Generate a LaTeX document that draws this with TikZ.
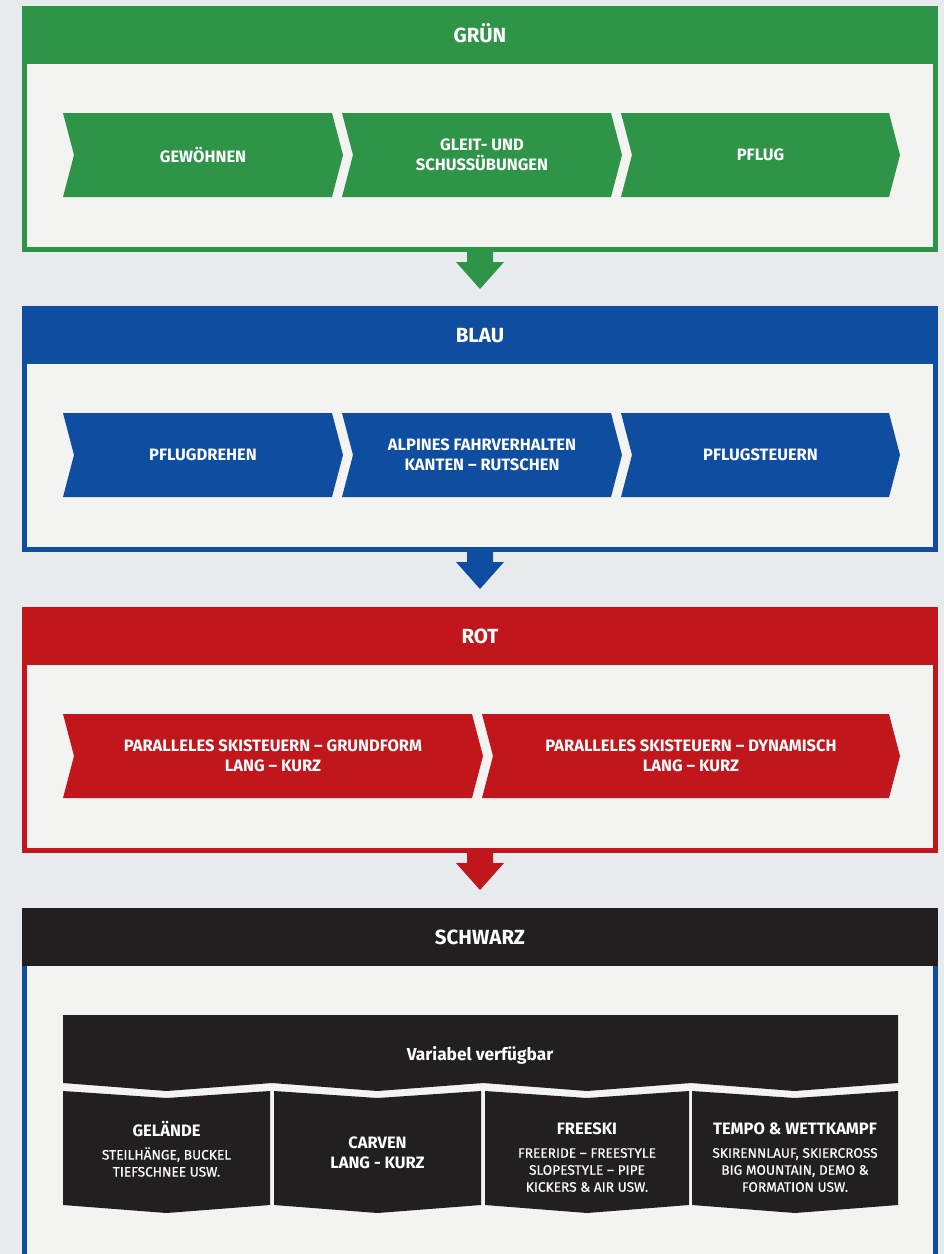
\documentclass[tikz,border=0pt]{standalone}
\usepackage{fontspec}
\setmainfont{Fira Sans}
\newfontfamily\subfont[FakeBold=0.4]{Fira Sans}
\usetikzlibrary{calc}
\definecolor{cgreen}{HTML}{2E9447}
\definecolor{cblue}{HTML}{0E4DA0}
\definecolor{cred}{HTML}{C1161B}
\definecolor{cblack}{HTML}{231F20}
\definecolor{cbody}{HTML}{F3F3F1}
\definecolor{cbg}{HTML}{E7EBEE}
\tikzset{
  headbar/.style={fill=#1, draw=none, minimum width=916pt, minimum height=58pt, inner sep=0pt, outer sep=0pt,
    text=white, font=\bfseries\fontsize{20.5}{22}\selectfont, text height=14pt, text depth=0pt},
  bodybox/.style={draw=#1, line width=5pt, fill=cbody, minimum width=911pt, inner sep=0pt, outer sep=0pt, anchor=north west},
  chevtext/.style={text=white, align=center, font=\bfseries\fontsize{16.5}{20}\selectfont, inner sep=0pt},
  bantext/.style={text=white, font=\bfseries\fontsize{17.3}{20}\selectfont, inner sep=0pt},
  boxtitle/.style={text=white, align=center, font=\bfseries\fontsize{16.5}{19.5}\selectfont, inner sep=0pt},
  boxsub/.style={text=white, align=center, font=\subfont\fontsize{13.7}{17}\selectfont, inner sep=0pt},
}
\newcommand{\chevron}[6]{%
  \fill[#2] (#3,#5) -- (#4,#5) -- (#4+11,#5+42) -- (#4,#5+84) -- (#3,#5+84) -- (#3+11,#5+42) -- cycle;
  \node[chevtext] (#1) at ({(#3+#4)/2+5.5},#5+42) {#6};
}
\newcommand{\blockarrow}[2]{%
  \fill[#2] ($(#1.south)+(-13,-2)$) -- ++(26,0) -- ++(0,14.5) -- ++(11,0) -- ++(-24,27) -- ++(-24,-27) -- ++(11,0) -- cycle;
}
\newcommand{\blackbox}[3]{%
  \fill[cblack] (#2,1091) -- ({(#2+#3)/2},1098) -- (#3,1091) -- (#3,1205) -- ({(#2+#3)/2},1213) -- (#2,1205) -- cycle;
  \coordinate (#1) at ({(#2+#3)/2},1091);
}
\begin{document}
\begin{tikzpicture}[x=1pt,y=-1pt]
\useasboundingbox (0,0) rectangle (944,1254);
\fill[cbg] (0,0) rectangle (944,1254);

% GRUEN
\node[bodybox=cgreen, minimum height=188pt] (gbody) at (24.5,61.5) {};
\node[headbar=cgreen] (ghead) at (480,35) {GRÜN};
\chevron{g1}{cgreen}{63}{332}{113}{GEWÖHNEN}
\chevron{g2}{cgreen}{342}{611}{113}{GLEIT- UND\\SCHUSSÜBUNGEN}
\chevron{g3}{cgreen}{621}{889}{113}{PFLUG}
\blockarrow{gbody}{cgreen}

% BLAU
\node[bodybox=cblue, minimum height=188pt] (bbody) at (24.5,361.5) {};
\node[headbar=cblue] (bhead) at (480,335) {BLAU};
\chevron{b1}{cblue}{63}{332}{413}{PFLUGDREHEN}
\chevron{b2}{cblue}{342}{611}{413}{ALPINES FAHRVERHALTEN\\KANTEN – RUTSCHEN}
\chevron{b3}{cblue}{621}{889}{413}{PFLUGSTEUERN}
\blockarrow{bbody}{cblue}

% ROT
\node[bodybox=cred, minimum height=188pt] (rbody) at (24.5,662.5) {};
\node[headbar=cred] (rhead) at (480,636) {ROT};
\chevron{r1}{cred}{63}{472}{714}{PARALLELES SKISTEUERN – GRUNDFORM\\LANG – KURZ}
\chevron{r2}{cred}{482}{889}{714}{PARALLELES SKISTEUERN – DYNAMISCH\\LANG – KURZ}
\blockarrow{rbody}{cred}

% SCHWARZ
\node[bodybox=cblue, minimum height=320pt] (sbody) at (24.5,963.5) {};
\node[headbar=cblack] (shead) at (480,937) {SCHWARZ};
\fill[cblack] (63,1015) -- (898,1015) -- (898,1083) -- (794.5,1091) -- (691,1083) -- (587,1091) -- (483,1083)
  -- (377.5,1091) -- (272,1083) -- (166.5,1091) -- (63,1083) -- cycle;
\node[bantext] (ban) at (480,1055) {Variabel verfügbar};
\blackbox{k1}{63}{270}
\blackbox{k2}{274}{481}
\blackbox{k3}{485}{689}
\blackbox{k4}{692}{898}
\node[boxtitle] (k1t) at (166.5,1129) {GELÄNDE};
\node[boxsub] (k1s) at (166.5,1162) {STEILHÄNGE, BUCKEL\\TIEFSCHNEE USW.};
\node[boxtitle] (k2t) at (377.5,1153) {CARVEN\\LANG - KURZ};
\node[boxtitle] (k3t) at (587,1129) {FREESKI};
\node[boxsub] (k3s) at (587,1170) {FREERIDE – FREESTYLE\\SLOPESTYLE – PIPE\\KICKERS \& AIR USW.};
\node[boxtitle] (k4t) at (795,1129) {TEMPO \& WETTKAMPF};
\node[boxsub] (k4s) at (795,1170) {SKIRENNLAUF, SKIERCROSS\\BIG MOUNTAIN, DEMO \&\\FORMATION USW.};
\end{tikzpicture}
\end{document}
